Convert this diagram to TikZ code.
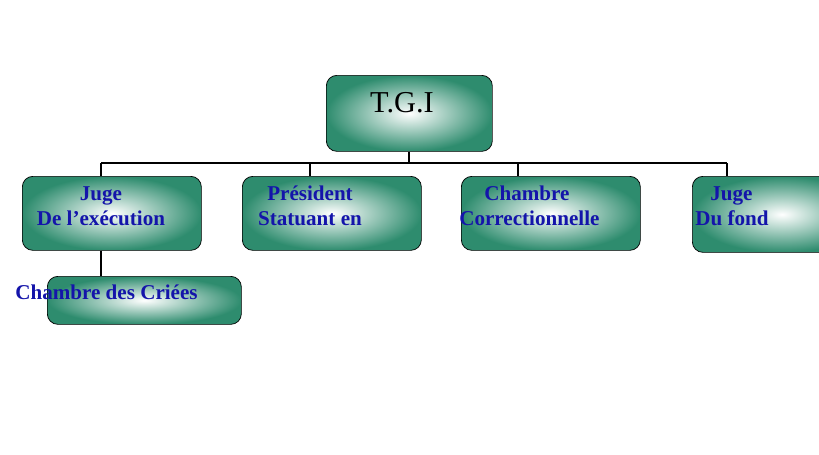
\documentclass[tikz,border=0pt]{standalone}
\usepackage{fontspec}
\setmainfont{Liberation Serif}
\usetikzlibrary{positioning}
\definecolor{boxgreen}{RGB}{46,140,110}
\definecolor{txtblue}{RGB}{20,20,170}
\tikzset{
  box/.style={draw=black, rounded corners=6pt, inner color=white, outer color=boxgreen,
    minimum width=3.58cm, minimum height=1.48cm, anchor=north west},
  label/.style={text=txtblue, font=\bfseries\large, align=left, inner sep=0pt},
  link/.style={draw=black, line width=1.2pt}
}
\begin{document}
\begin{tikzpicture}[x=1cm,y=1cm]
    \clip (0,0) rectangle (16.38,-9.08);
    \fill[white] (0,0) rectangle (16.38,-9.08);

    % boxes
    \node [box, minimum width=3.32cm, minimum height=1.52cm] (tgi) at (6.52,-1.5) {};
    \node [box] (exec) at (0.44,-3.52) {};
    \node [box] (pres) at (4.84,-3.52) {};
    \node [box] (corr) at (9.22,-3.52) {};
    \node [box, minimum height=1.52cm] (fond) at (13.84,-3.52) {};
    \node [box, minimum width=3.88cm, minimum height=0.96cm] (criees) at (0.94,-5.52) {};

    % texts
    \node [font=\LARGE, inner sep=0pt] at (8.04,-2.06) {T.G.I};
    \node [label, align=center] at (2.02,-4.12) {Juge\\De l’exécution};
    \node [label, align=center] at (6.2,-4.12) {Président\\Statuant en};
    \node [label, anchor=west] at (9.18,-4.12) {\hspace{0.5cm}Chambre\\Correctionnelle};
    \node [label, anchor=west] at (13.9,-4.12) {\hspace{0.3cm}Juge\\Du fond};
    \node [label, font=\bfseries\large, anchor=west] at (0.3,-5.85) {Chambre des Criées};

    % connectors
    \coordinate (bus) at (8.18,-3.26);
    \draw [link] (tgi.south -| bus) -- (bus);
    \draw [link] (2.02,-3.26) -- (14.54,-3.26);
    \draw [link] (2.02,-3.26) -- (exec.north -| 2.02,0);
    \draw [link] (6.2,-3.26) -- (pres.north -| 6.2,0);
    \draw [link] (10.36,-3.26) -- (corr.north -| 10.36,0);
    \draw [link] (14.54,-3.26) -- (fond.north -| 14.54,0);
    \draw [link] (exec.south -| 2.02,0) -- (criees.north -| 2.02,0);
\end{tikzpicture}
\end{document}
